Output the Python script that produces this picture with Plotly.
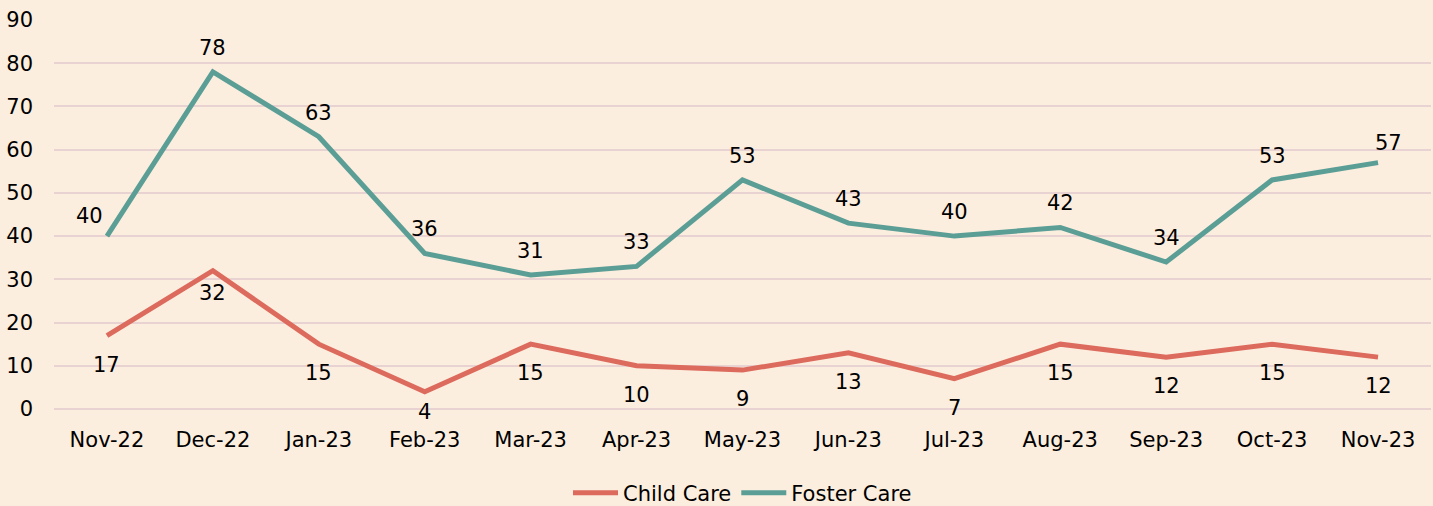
import plotly.graph_objects as go

months = ["Nov-22", "Dec-22", "Jan-23", "Feb-23", "Mar-23", "Apr-23", "May-23",
          "Jun-23", "Jul-23", "Aug-23", "Sep-23", "Oct-23", "Nov-23"]
child_care = [17, 32, 15, 4, 15, 10, 9, 13, 7, 15, 12, 15, 12]
foster_care = [40, 78, 63, 36, 31, 33, 53, 43, 40, 42, 34, 53, 57]

RED = "#DC6A5D"
TEAL = "#5B9E96"
BG = "#FCEEDE"
GRID = "#E9D3D2"
FONT = "DejaVu Sans"

fig = go.Figure()
fig.add_trace(go.Scatter(x=months, y=child_care, mode="lines", name="Child Care",
                         line=dict(color=RED, width=5)))
fig.add_trace(go.Scatter(x=months, y=foster_care, mode="lines", name="Foster Care",
                         line=dict(color=TEAL, width=5)))

annotations = []
n = len(months)
for i, (m, v) in enumerate(zip(months, child_care)):
    ys = -29
    if i == 1:
        ys = -22
    elif i == 3:
        ys = -20
    annotations.append(dict(x=m, y=v, text=str(v), showarrow=False, yshift=ys,
                            font=dict(family=FONT, size=21, color="#000")))
for i, (m, v) in enumerate(zip(months, foster_care)):
    xs, ys = 0, 24
    if i == 0:
        xs, ys = -17, 20
    elif i == n - 1:
        xs, ys = 10, 20
    annotations.append(dict(x=m, y=v, text=str(v), showarrow=False, yshift=ys, xshift=xs,
                            font=dict(family=FONT, size=21, color="#000")))

fig.update_layout(
    width=1433, height=506,
    paper_bgcolor=BG, plot_bgcolor=BG,
    margin=dict(l=54, r=2, t=20, b=97, autoexpand=False),
    font=dict(family=FONT, size=21, color="#000"),
    showlegend=True,
    legend=dict(orientation="h", x=0.5, xanchor="center", y=-0.216, yanchor="middle",
                itemwidth=45, font=dict(family=FONT, size=21), bgcolor="rgba(0,0,0,0)"),
    annotations=annotations,
)
fig.update_xaxes(type="category", range=[-0.5, n - 0.5], automargin=False,
                 showgrid=False, showline=False, ticks="",
                 ticklabelstandoff=16, tickfont=dict(family=FONT, size=21))
fig.update_yaxes(range=[0, 90], dtick=10, automargin=False, showgrid=True, gridcolor=GRID,
                 gridwidth=1.5, zeroline=True, zerolinecolor=GRID, zerolinewidth=1.5,
                 showline=False, ticks="", ticklabelstandoff=20,
                 tickfont=dict(family=FONT, size=21))

fig.write_html("out.html", config={"displayModeBar": False},
               post_script="document.body.style.margin='0';document.body.style.overflow='hidden';")
